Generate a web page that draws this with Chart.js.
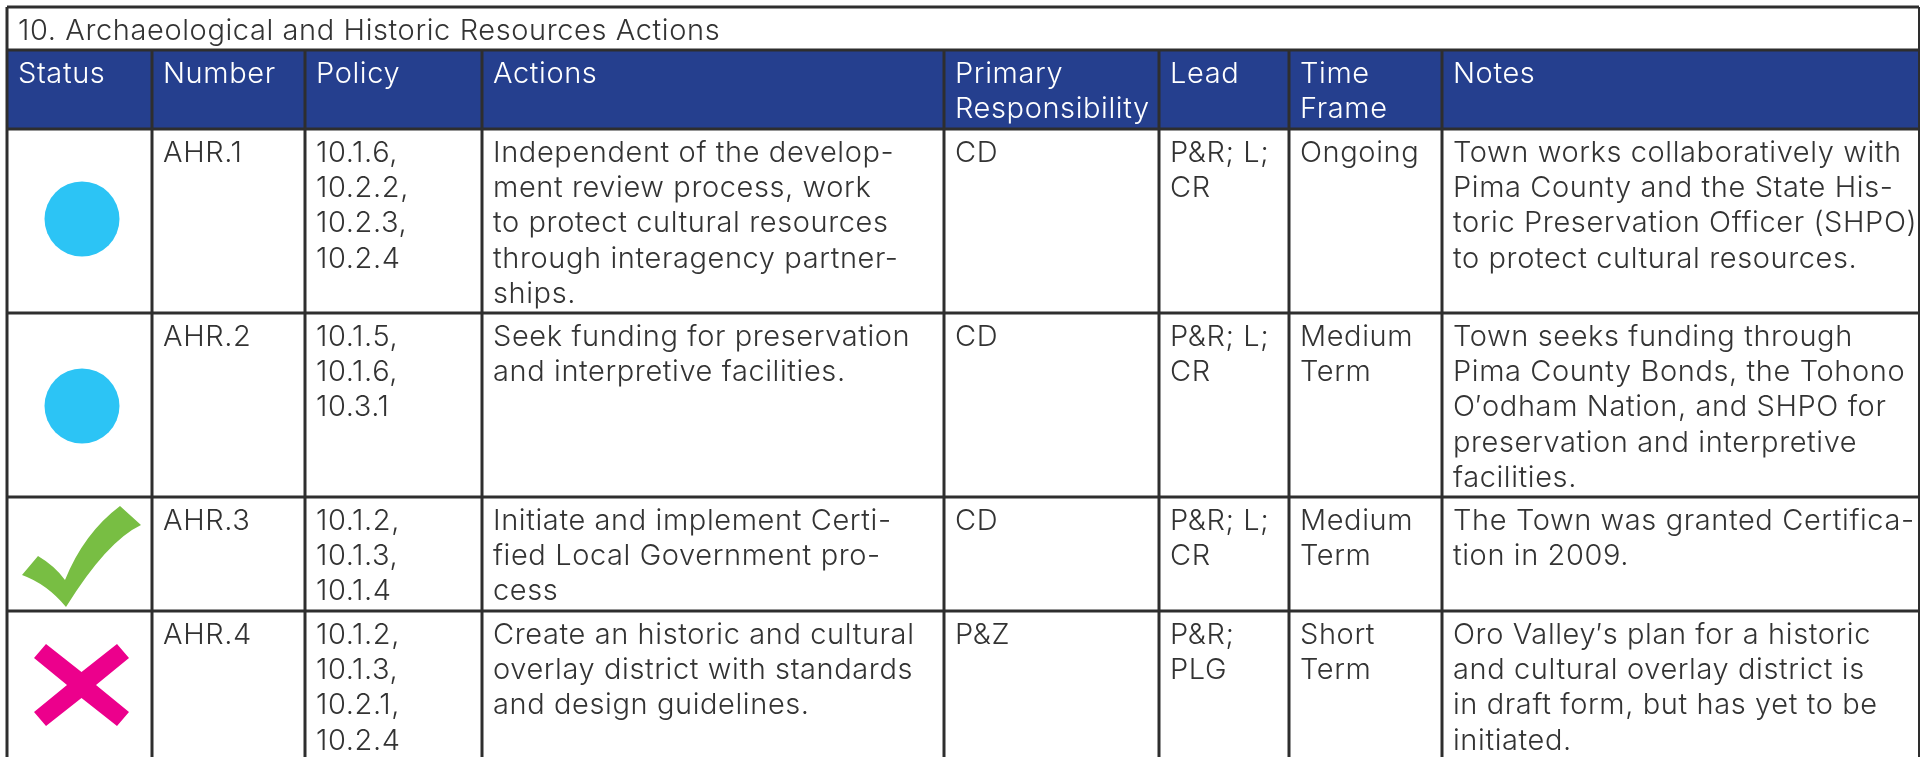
<!DOCTYPE html>
<html>
<head>
<meta charset="utf-8">
<title>Archaeological and Historic Resources Actions</title>
<script src="https://cdn.jsdelivr.net/npm/chart.js@4"></script>
<style>
  html, body { margin: 0; padding: 0; background: #fff; }
  canvas { display: block; }
</style>
</head>
<body>
<canvas id="table" width="1925" height="757"></canvas>
<script>
const tableTitle = "10. Archaeological and Historic Resources Actions";
const headers = [
  ["Status"], ["Number"], ["Policy"], ["Actions"],
  ["Primary", "Responsibility"], ["Lead"], ["Time", "Frame"], ["Notes"]
];
const statuses = ["ongoing", "ongoing", "done", "notDone"];
const numbers = [["AHR.1"], ["AHR.2"], ["AHR.3"], ["AHR.4"]];
const policies = [
  ["10.1.6,", "10.2.2,", "10.2.3,", "10.2.4"],
  ["10.1.5,", "10.1.6,", "10.3.1"],
  ["10.1.2,", "10.1.3,", "10.1.4"],
  ["10.1.2,", "10.1.3,", "10.2.1,", "10.2.4"]
];
const actions = [
  ["Independent of the develop-", "ment review process, work", "to protect cultural resources", "through interagency partner-", "ships."],
  ["Seek funding for preservation", "and interpretive facilities."],
  ["Initiate and implement Certi-", "fied Local Government pro-", "cess"],
  ["Create an historic and cultural", "overlay district with standards", "and design guidelines."]
];
const responsibility = [["CD"], ["CD"], ["CD"], ["P&Z"]];
const leads = [["P&R; L;", "CR"], ["P&R; L;", "CR"], ["P&R; L;", "CR"], ["P&R;", "PLG"]];
const timeFrames = [["Ongoing"], ["Medium", "Term"], ["Medium", "Term"], ["Short", "Term"]];
const notes = [
  ["Town works collaboratively with", "Pima County and the State His-", "toric Preservation Officer (SHPO)", "to protect cultural resources."],
  ["Town seeks funding through", "Pima County Bonds, the Tohono", "O\u2032odham Nation, and SHPO for", "preservation and interpretive", "facilities."],
  ["The Town was granted Certifica-", "tion in 2009."],
  ["Oro Valley\u2032s plan for a historic", "and cultural overlay district is", "in draft form, but has yet to be", "initiated."]
];
const bodyColumns = [null, numbers, policies, actions, responsibility, leads, timeFrames, notes];

// table layout, in the units of the two scales
const colEdges = [7, 152, 305, 482, 944, 1159, 1289, 1442, 1919];
const rowEdges = [7, 50, 129, 313, 497, 611, 757];
const markX = 82;
const markY = [219, 406, 557, 685];
const textPadX = 11;
const firstBaseline = 33;
const lineGap = 35.2;

const FONT = '300 29px Inter';
const INK = '#333333';
const RULE = '#2e2e2e';
const HEADER_BLUE = '#253f8e';

function makeCanvas(w, h, draw) {
  const c = document.createElement('canvas');
  c.width = w;
  c.height = h;
  draw(c.getContext('2d'));
  return c;
}

const markImages = {
  ongoing: makeCanvas(76, 76, (g) => {
    g.fillStyle = '#2cc4f5';
    g.beginPath();
    g.arc(38, 38, 37.5, 0, Math.PI * 2);
    g.fill();
  }),
  done: makeCanvas(120, 102, (g) => {
    g.fillStyle = '#78be43';
    g.beginPath();
    g.moveTo(0, 69);
    g.lineTo(16, 50);
    g.quadraticCurveTo(33, 60, 43, 74);
    g.quadraticCurveTo(62, 27, 98, 0);
    g.lineTo(119, 19);
    g.quadraticCurveTo(85, 35, 44, 101);
    g.quadraticCurveTo(25, 78, 0, 69);
    g.closePath();
    g.fill();
  }),
  notDone: makeCanvas(96, 82, (g) => {
    g.fillStyle = '#ec008c';
    g.beginPath();
    g.moveTo(12, 0);
    g.lineTo(47.5, 28);
    g.lineTo(83, 0);
    g.lineTo(95, 14);
    g.lineTo(62, 41);
    g.lineTo(95, 68);
    g.lineTo(83, 82);
    g.lineTo(47.5, 54);
    g.lineTo(12, 82);
    g.lineTo(0, 68);
    g.lineTo(33, 41);
    g.lineTo(0, 14);
    g.closePath();
    g.fill();
  })
};

function ruleDataset(points, width) {
  return {
    type: 'scatter',
    data: points,
    showLine: true,
    borderColor: RULE,
    borderWidth: width,
    pointRadius: 0,
    fill: false,
    order: 2
  };
}

const datasets = [];
const left = colEdges[0];
const right = colEdges[colEdges.length - 1];
const bottom = rowEdges[rowEdges.length - 1];
for (const y of rowEdges.slice(0, -1)) {
  datasets.push(ruleDataset([{ x: left, y: y }, { x: right, y: y }], 3));
}
datasets.push(ruleDataset([{ x: left, y: rowEdges[0] }, { x: left, y: bottom }], 3));
datasets.push(ruleDataset([{ x: right, y: rowEdges[0] }, { x: right, y: bottom }], 2));
for (const x of colEdges.slice(1, -1)) {
  datasets.push(ruleDataset([{ x: x, y: rowEdges[1] }, { x: x, y: bottom }], 3));
}
datasets.push({
  type: 'scatter',
  data: statuses.map((s, i) => ({ x: markX, y: markY[i] })),
  pointStyle: statuses.map((s) => markImages[s]),
  pointRadius: 5,
  order: 1
});

// header band and all cell text
const tablePlugin = {
  id: 'tablePlugin',
  beforeDatasetsDraw(chart) {
    const { ctx, scales } = chart;
    const x0 = scales.x.getPixelForValue(left);
    const x1 = scales.x.getPixelForValue(right);
    const y0 = scales.y.getPixelForValue(rowEdges[1]);
    const y1 = scales.y.getPixelForValue(rowEdges[2]);
    ctx.save();
    ctx.fillStyle = HEADER_BLUE;
    ctx.fillRect(x0, y0, x1 - x0, y1 - y0);
    ctx.restore();
  },
  afterDatasetsDraw(chart) {
    const { ctx, scales } = chart;
    const put = (lines, x, y, color) => {
      ctx.fillStyle = color;
      lines.forEach((line, i) => {
        ctx.fillText(line, scales.x.getPixelForValue(x), scales.y.getPixelForValue(y + i * lineGap));
      });
    };
    ctx.save();
    ctx.font = FONT;
    ctx.letterSpacing = '0.6px';
    ctx.textBaseline = 'alphabetic';
    put([tableTitle], left + textPadX, 40, INK);
    headers.forEach((h, c) => put(h, colEdges[c] + textPadX, 83, '#ffffff'));
    bodyColumns.forEach((column, c) => {
      if (!column) return;
      column.forEach((cell, r) => put(cell, colEdges[c] + textPadX, rowEdges[r + 2] + firstBaseline, INK));
    });
    ctx.restore();
  }
};

new Chart(document.getElementById('table'), {
  type: 'scatter',
  data: { datasets: datasets },
  plugins: [tablePlugin],
  options: {
    responsive: false,
    animation: false,
    layout: { padding: 0, autoPadding: false },
    plugins: { legend: { display: false }, tooltip: { enabled: false } },
    scales: {
      x: { type: 'linear', display: false, min: 0, max: 1925 },
      y: { type: 'linear', display: false, reverse: true, min: 0, max: 757 }
    }
  }
});
</script>
</body>
</html>
